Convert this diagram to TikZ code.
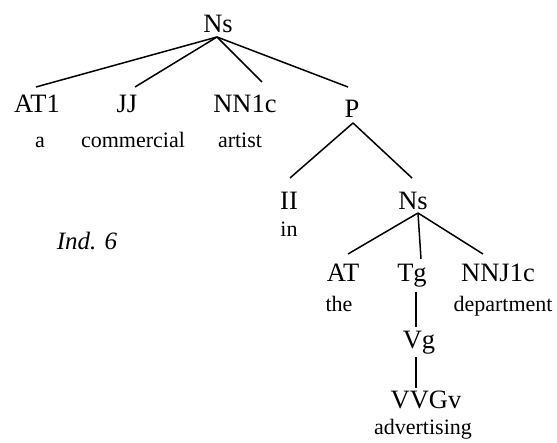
\documentclass[tikz,border=0pt]{standalone}
\usepackage{fontspec}
\setmainfont{Liberation Serif}

\begin{document}
\begin{tikzpicture}[x=1pt,y=-1pt,
  tag/.style={inner sep=0pt,anchor=base,font=\fontsize{26.5}{30}\selectfont},
  word/.style={inner sep=0pt,anchor=base,font=\fontsize{22}{26}\selectfont}]
\useasboundingbox (0,0) rectangle (557,443);
% category labels
\node[tag] (ns) at (218,33) {Ns};
\node[tag] (at1) at (37,113) {AT1};
\node[tag] (jj) at (127,113) {JJ};
\node[tag] (nnc) at (245,113) {NN1c};
\node[tag] (p) at (352,118) {P};
\node[tag] (ii) at (289,210) {II};
\node[tag] (nsb) at (413,210) {Ns};
\node[tag] (at) at (343,282) {AT};
\node[tag] (tg) at (412,282) {Tg};
\node[tag] (nnj) at (498,282) {NNJ1c};
\node[tag] (vg) at (419,349) {Vg};
\node[tag] (vvgv) at (426,409) {VVGv};
% words
\node[word] (wa) at (40,148) {a};
\node[word] (wcomm) at (133,148) {commercial};
\node[word] (wartist) at (240,148) {artist};
\node[word] (win) at (289,237) {in};
\node[word] (wthe) at (339,312) {the};
\node[word] (wdept) at (503,312) {department};
\node[word] (wadv) at (423,435) {advertising};
\node[anchor=base,inner sep=0pt,font=\fontsize{25}{28}\selectfont\itshape] (ind) at (87,250) {Ind. 6};
% branches
\foreach \p/\sx/\sy/\c/\ex/\ey in {ns/-1/-4/at1/-1/26, ns/-1/-4/jj/8/26, ns/-1/-4/nnc/17/31, ns/-1/-4/p/-4/31,
  p/1/-5/ii/1/32, p/1/-5/nsb/-1/32,
  nsb/5/-3/at/5/28, nsb/5/-3/tg/9/23, nsb/5/-3/nnj/-15/28,
  tg/4/-10/vg/-3/22, vg/-3/-8/vvgv/-10/21}{
  \draw[line width=1.5pt] ([xshift=\sx pt,yshift=\sy pt]\p.base) -- ([xshift=\ex pt,yshift=\ey pt]\c.base);
}
\end{tikzpicture}
\end{document}
